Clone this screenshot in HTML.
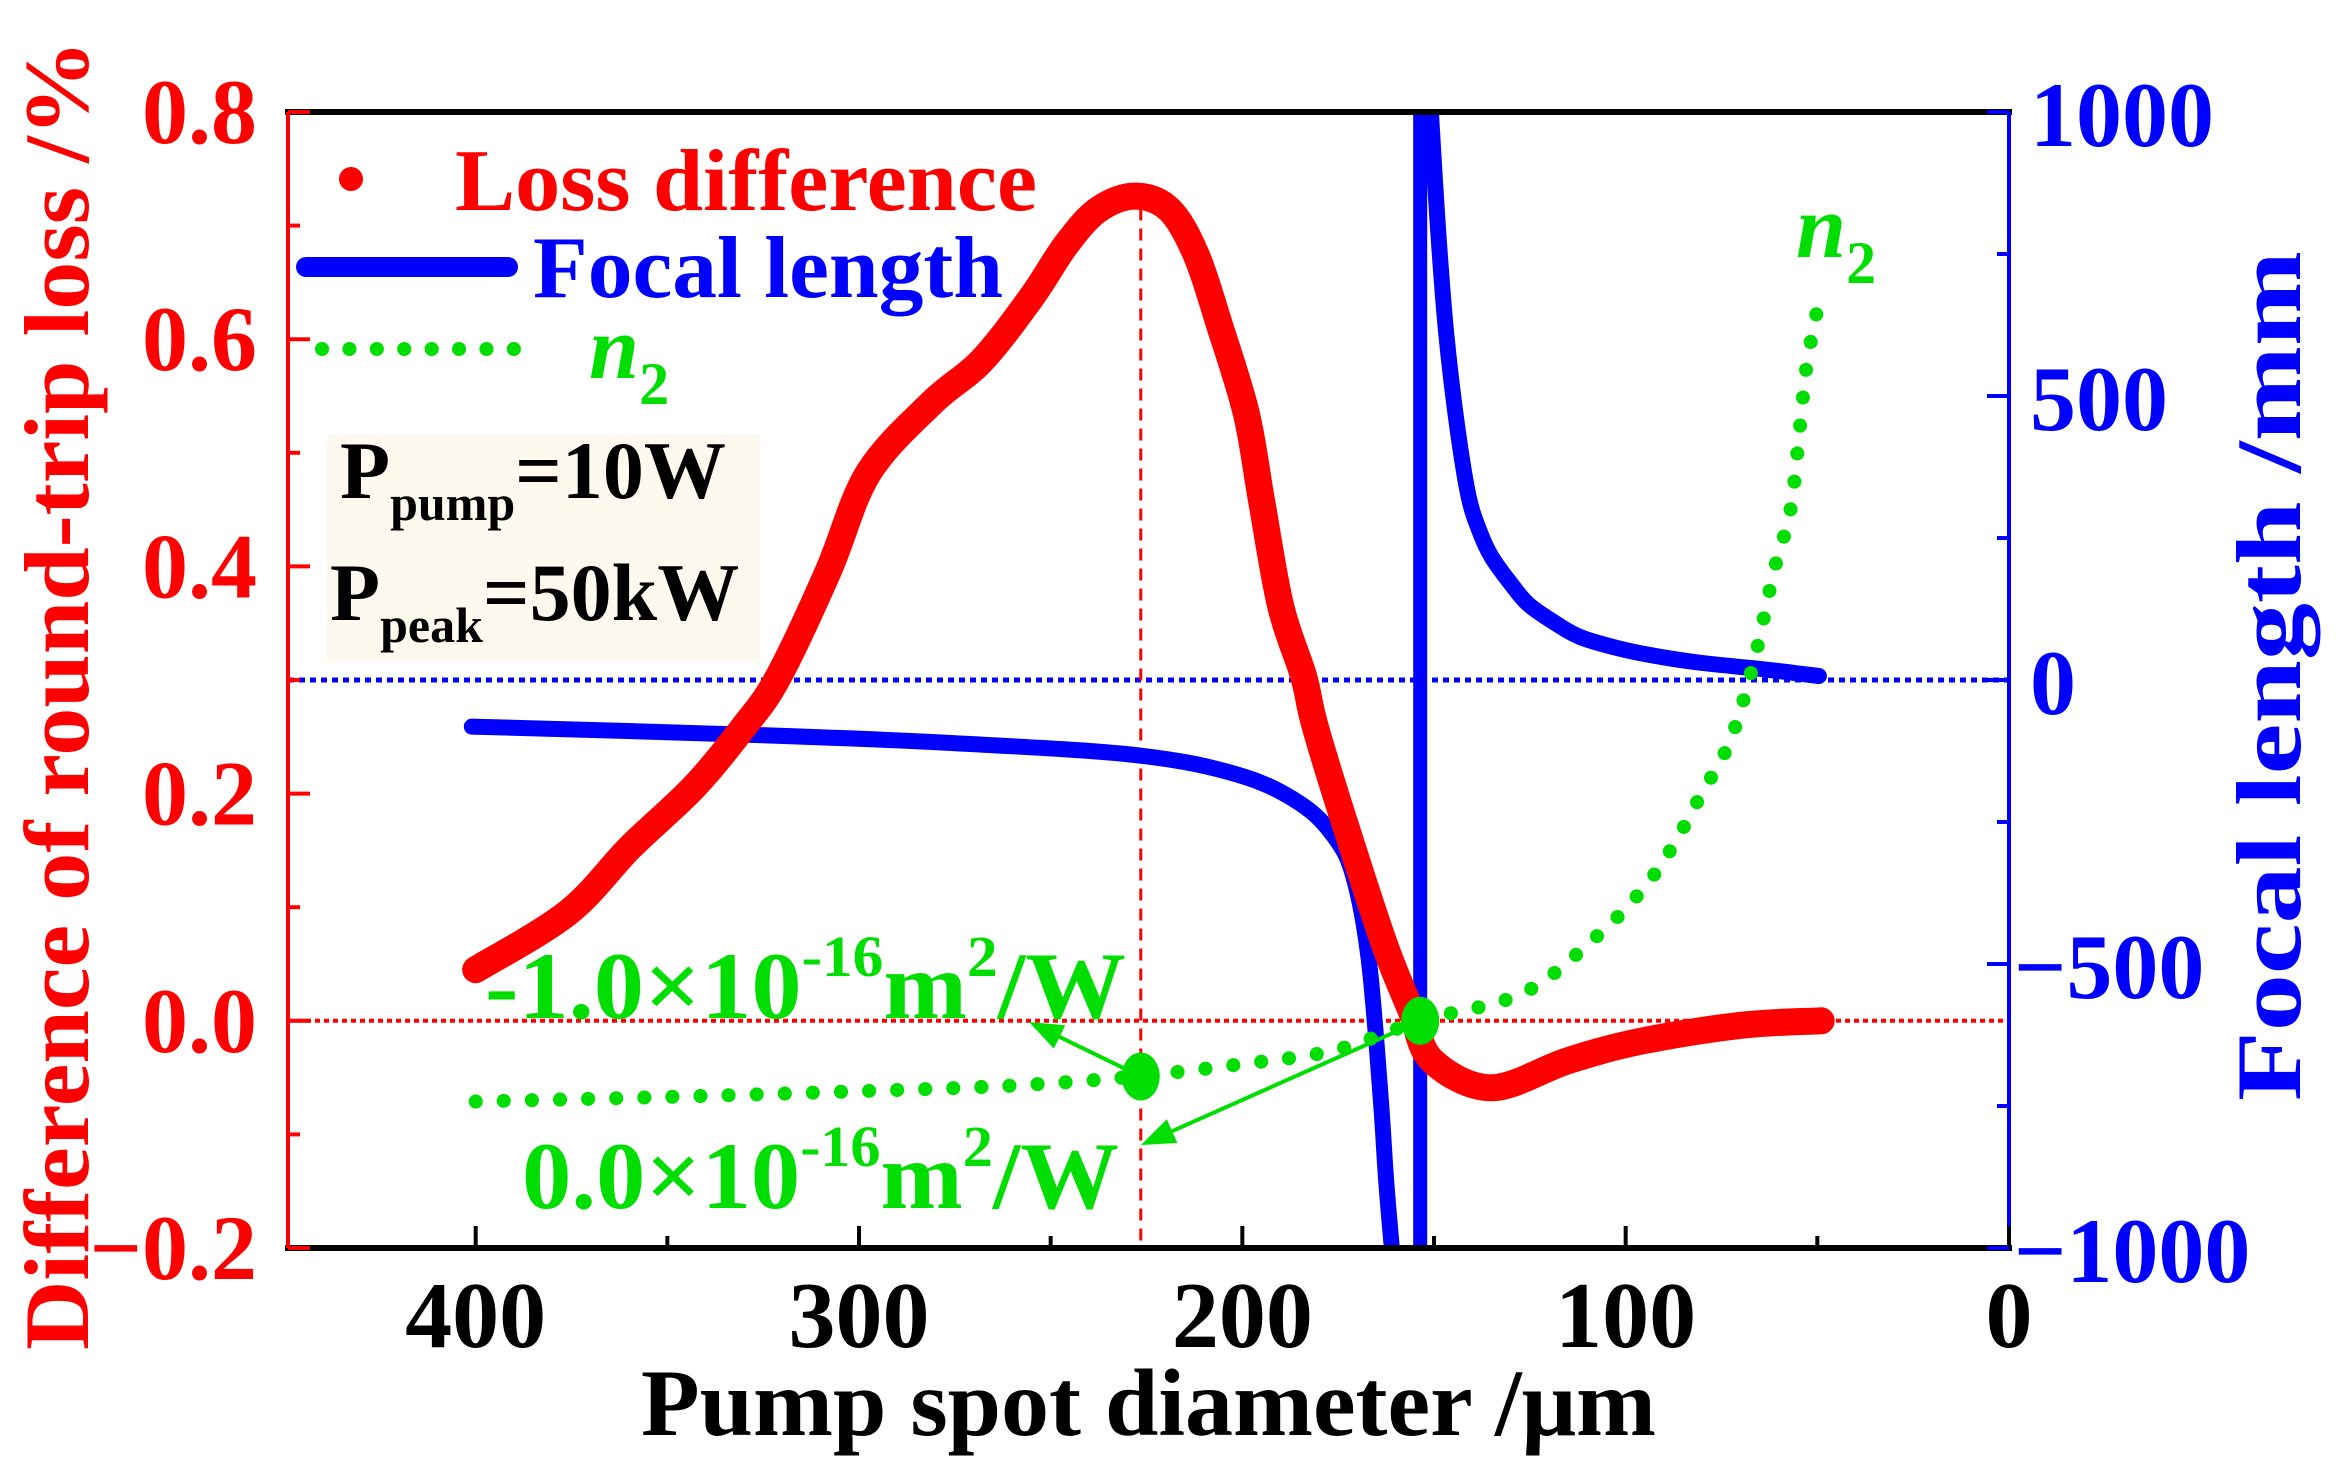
<!DOCTYPE html>
<html><head><meta charset="utf-8"><style>
html,body{margin:0;padding:0;background:#fff;}
svg{display:block;font-family:"Liberation Serif",serif;font-weight:bold;}
</style></head><body>
<svg id="chart" width="2339" height="1478" viewBox="0 0 2339 1478" xmlns="http://www.w3.org/2000/svg">
<defs><clipPath id="plotclip"><rect x="288" y="112" width="1721" height="1136"/></clipPath></defs>
<rect x="0" y="0" width="2339" height="1478" fill="#fff"/>
<g id="grid"></g>
<g id="series" clip-path="url(#plotclip)"></g>
<g id="axes"></g>
<g id="labels"></g>

<g>
  <circle cx="351" cy="179" r="12" fill="#ff0000"/>
  <text x="455" y="210" font-size="88" fill="#ff0000" textLength="582" lengthAdjust="spacingAndGlyphs">Loss difference</text>
  <line x1="306" y1="267" x2="508" y2="267" stroke="#0000ff" stroke-width="20" stroke-linecap="round"/>
  <text x="533" y="297" font-size="88" fill="#0000ff" textLength="470" lengthAdjust="spacingAndGlyphs">Focal length</text>
  <line x1="322" y1="349" x2="541" y2="349" stroke="#00dd00" stroke-width="14" stroke-linecap="round" stroke-dasharray="0.1 27.3"/>
  <text x="589" y="378" font-size="90" fill="#00dd00" font-style="italic">n<tspan font-size="60" font-style="normal" dy="26">2</tspan></text>
</g>

<g>
  <rect x="327" y="435" width="433" height="227" fill="#fdf9ee"/>
  <text x="340" y="498" font-size="82" fill="#000">P<tspan font-size="50" dy="22">pump</tspan><tspan dy="-22">=10W</tspan></text>
  <text x="330" y="620" font-size="82" fill="#000">P<tspan font-size="50" dy="22">peak</tspan><tspan dy="-22">=50kW</tspan></text>
</g>

<text x="1796" y="257" font-size="90" fill="#00dd00" font-style="italic">n<tspan font-size="60" font-style="normal" dy="26">2</tspan></text>

<text x="485" y="1018" font-size="95" fill="#00dd00" textLength="641" lengthAdjust="spacingAndGlyphs">-1.0×10<tspan font-size="58" dy="-42">-16</tspan><tspan dy="42">m</tspan><tspan font-size="58" dy="-42">2</tspan><tspan dy="42">/W</tspan></text>
<text x="522" y="1208" font-size="95" fill="#00dd00" textLength="597" lengthAdjust="spacingAndGlyphs">0.0×10<tspan font-size="58" dy="-42">-16</tspan><tspan dy="42">m</tspan><tspan font-size="58" dy="-42">2</tspan><tspan dy="42">/W</tspan></text>
<g id="arrows"></g>

<text x="641" y="1435" font-size="95" fill="#000" textLength="1015" lengthAdjust="spacingAndGlyphs">Pump spot diameter /μm</text>
<text transform="translate(88,1350) rotate(-90)" x="0" y="0" font-size="92" fill="#ff0000" textLength="1310" lengthAdjust="spacingAndGlyphs">Difference of round-trip loss /%</text>
<text transform="translate(2300,1101) rotate(-90)" x="0" y="0" font-size="92" fill="#0000ff" textLength="850" lengthAdjust="spacingAndGlyphs">Focal length /mm</text>
</svg>
<script>
const NS = "http://www.w3.org/2000/svg";
// ---- data ----
const lossD = [400,376,359.6,343,330,321,308,297.6,281,268,255,246,237.6,228,219,212,206,199,195,190,184,181,173,163,156,150.5,135,115,96,70,49];
const lossV = [0.045,0.095,0.153,0.206,0.259,0.303,0.396,0.482,0.544,0.581,0.637,0.683,0.714,0.726,0.714,0.674,0.613,0.535,0.458,0.365,0.303,0.259,0.171,0.068,0.009,-0.035,-0.059,-0.035,-0.018,-0.004,0.0];
const focalLeftD = [401,326,276,228,201,185,176,171,167,164,162.5,161];
const focalLeftF = [-82,-97,-111,-132,-167,-217,-276,-347,-493,-727,-880,-1000];
const focalJumpD = [153.6,153.6];
const focalJumpF = [-1000,1000];
const focalRightD = [150.8,149,146.9,144,141,138,135,130,125.5,119,112,102,92,80,67,58,49.6];
const focalRightF = [1000,800,616,449,324,260,217,170,134,103,76,56,42,30,21,14,7];
const n2D = [400,350,300,260,228,200,176,153.6,127,108,96,88,80.5,72.7,66.5,61.3,57,54.5,52.7,49.6];
const n2V = [-0.071,-0.067,-0.062,-0.057,-0.049,-0.038,-0.026,0.0,0.024,0.073,0.114,0.152,0.198,0.247,0.317,0.396,0.45,0.524,0.579,0.633];
const n2MarkD = [226.5,153.6];
const n2MarkV = [-0.049,0.0];
const xTicks = [400,300,200,100,0];
const xTickLabels = ["400","300","200","100","0"];
const yLTicks = [0.8,0.6,0.4,0.2,0.0,-0.2];
const yLTickLabels = ["0.8","0.6","0.4","0.2","0.0","\u22120.2"];
const yRTicks = [1000,500,0,-500,-1000];
const yRTickLabels = ["1000","500","0","\u2212500","\u22121000"];
const peakD = 226.5;

const X0=288,X1=2009,Y0=112,Y1=1248;
const xs = d => 2009 - d*3.8333;
const yL = v => Y1 - (v+0.2)*(Y1-Y0);
const yR = f => 680 - f*0.568;

function mk(tag, attrs, parent){const e=document.createElementNS(NS,tag);for(const k in attrs)e.setAttribute(k,attrs[k]);parent.appendChild(e);return e;}
const series=document.getElementById('series'), axes=document.getElementById('axes'), labels=document.getElementById('labels'), grid=document.getElementById('grid'), arrows=document.getElementById('arrows');

function smoothPath(ds,vs,fy){
  const pp=ds.map((d,i)=>[xs(d),fy(vs[i])]);
  const n=pp.length;
  let s='M'+pp[0][0].toFixed(1)+','+pp[0][1].toFixed(1);
  for(let i=0;i+1<n;i++){
    const p0=pp[Math.max(0,i-1)],p1=pp[i],p2=pp[i+1],p3=pp[Math.min(n-1,i+2)];
    const c1=[p1[0]+(p2[0]-p0[0])/6,p1[1]+(p2[1]-p0[1])/6];
    const c2=[p2[0]-(p3[0]-p1[0])/6,p2[1]-(p3[1]-p1[1])/6];
    s+=' C'+c1[0].toFixed(1)+','+c1[1].toFixed(1)+' '+c2[0].toFixed(1)+','+c2[1].toFixed(1)+' '+p2[0].toFixed(1)+','+p2[1].toFixed(1);
  }
  return s;
}
function pts(ds,vs,fy){return ds.map((d,i)=>xs(d).toFixed(1)+','+fy(vs[i]).toFixed(1)).join(' ');}

let el;
el=mk('line',{x1:X0,x2:X1,y1:yL(0),y2:yL(0),stroke:'#ff0000','stroke-width':4,'stroke-dasharray':'5 4'},grid);


el=mk('line',{x1:X0,x2:X1,y1:yR(0),y2:yR(0),stroke:'#0000ff','stroke-width':5,'stroke-dasharray':'6 5'},grid);


el=mk('line',{x1:xs(peakD),x2:xs(peakD),y1:yL(0.715),y2:Y1,stroke:'#ff0000','stroke-width':3,'stroke-dasharray':'12 8'},grid);



el=mk('path',{d:smoothPath(focalLeftD,focalLeftF,yR),fill:'none',stroke:'#0000ff','stroke-width':16,'stroke-linecap':'round','stroke-linejoin':'round'},series);


el=mk('polyline',{points:pts(focalJumpD,focalJumpF,yR),fill:'none',stroke:'#0000ff','stroke-width':14},series);


el=mk('path',{d:smoothPath(focalRightD,focalRightF,yR),fill:'none',stroke:'#0000ff','stroke-width':16,'stroke-linecap':'round','stroke-linejoin':'round'},series);



el=mk('path',{d:smoothPath(lossD,lossV,yL),fill:'none',stroke:'#ff0000','stroke-width':27,'stroke-linecap':'round','stroke-linejoin':'round'},series);



el=mk('path',{d:smoothPath(n2D,n2V,yL),fill:'none',stroke:'#00dd00','stroke-width':14,'stroke-linecap':'round','stroke-dasharray':'0.1 28'},series);


n2MarkD.forEach((d,i)=>{
  const c=mk('ellipse',{cx:xs(d),cy:yL(n2MarkV[i]),rx:19,ry:24,fill:'#00dd00'},series);
  
  
});

function arrow(x1,y1,x2,y2,name){
  const g=mk('g',{},arrows);
  
  
  const ang=Math.atan2(y2-y1,x2-x1), L=34, W=13;
  const bx=x2-L*Math.cos(ang), by=y2-L*Math.sin(ang);
  mk('line',{x1:x1,y1:y1,x2:bx,y2:by,stroke:'#00dd00','stroke-width':4},g);
  const px=-Math.sin(ang)*W, py=Math.cos(ang)*W;
  mk('polygon',{points:`${x2},${y2} ${bx+px},${by+py} ${bx-px},${by-py}`,fill:'#00dd00'},g);
}
arrow(xs(n2MarkD[0]),yL(n2MarkV[0]),1029,1022,'arrow-neg-n2');
arrow(xs(n2MarkD[1]),yL(n2MarkV[1]),1141,1145,'arrow-zero-n2');

el=mk('line',{x1:X0-3,x2:X1+3,y1:Y0,y2:Y0,stroke:'#000','stroke-width':6},axes);


el=mk('line',{x1:X0-3,x2:X1+3,y1:Y1,y2:Y1,stroke:'#000','stroke-width':6},axes);


el=mk('line',{x1:X0,x2:X0,y1:Y0,y2:Y1,stroke:'#ff0000','stroke-width':4},axes);


el=mk('line',{x1:X1,x2:X1,y1:Y0,y2:Y1,stroke:'#0000ff','stroke-width':4},axes);



for(let d=400; d>=0; d-=50){
  const major = d%100===0;
  el=mk('line',{x1:xs(d),x2:xs(d),y1:Y1,y2:Y1-(major?22:12),stroke:'#000','stroke-width':4},axes);
  
  
}
xTicks.forEach((d,i)=>{
  const t=mk('text',{x:xs(d),y:1347,'font-size':94,'text-anchor':'middle',fill:'#000'},labels);
  t.textContent=xTickLabels[i];
  
  
});
for(let v=-0.2; v<=0.801; v+=0.1){
  const major=Math.round(v*10)%2===0;
  el=mk('line',{x1:X0,x2:X0+(major?22:12),y1:yL(v),y2:yL(v),stroke:'#ff0000','stroke-width':4},axes);
  
  
}
yLTicks.forEach((v,i)=>{
  const t=mk('text',{x:257,y:yL(v)+31,'font-size':92,'text-anchor':'end',fill:'#ff0000'},labels);
  t.textContent=yLTickLabels[i];
  
  
});
for(let f=-1000; f<=1000; f+=250){
  const major=f%500===0;
  el=mk('line',{x1:X1,x2:X1-(major?22:12),y1:yR(f),y2:yR(f),stroke:'#0000ff','stroke-width':4},axes);
  
  
}
yRTicks.forEach((f,i)=>{
  const x = f<0 ? 2014 : 2030;
  const t=mk('text',{x:x,y:yR(f)+34,'font-size':92,'text-anchor':'start',fill:'#0000ff'},labels);
  t.textContent=yRTickLabels[i];
  
  
});
</script>
</body></html>
